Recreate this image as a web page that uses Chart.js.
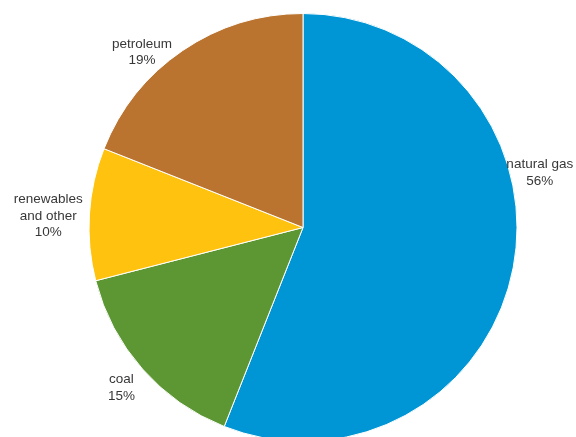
<!DOCTYPE html>
<html>
<head>
<meta charset="utf-8">
<script src="https://cdn.jsdelivr.net/npm/chart.js@4"></script>
<style>
  html, body { margin: 0; padding: 0; background: #fff; overflow: hidden; }
  #wrap { position: relative; width: 576px; height: 442px; }
</style>
</head>
<body>
<div id="wrap"><canvas id="energyChart"></canvas></div>
<script>
const categories = ['natural gas', 'coal', 'renewables\nand other', 'petroleum'];
const shares = [56, 15, 10, 19];
const sliceColors = ['#0096d6', '#5c9733', '#ffc20e', '#ba742f'];

// small adjustments so labels sit where the original placed them
const labelNudge = [
  { angle: -23.8, gap: 29 },
  { angle: 0, gap: 28 },
  { angle: -1, gap: 41 },
  { angle: -8.4, gap: 24 }
];

const outsideLabels = {
  id: 'outsideLabels',
  afterDatasetsDraw(chart) {
    const ctx = chart.ctx;
    const meta = chart.getDatasetMeta(0);
    ctx.save();
    ctx.font = '13.5px "Liberation Sans", Arial, sans-serif';
    ctx.fillStyle = '#383838';
    ctx.textAlign = 'center';
    ctx.textBaseline = 'middle';
    meta.data.forEach((arc, i) => {
      const p = arc.getProps(['x', 'y', 'startAngle', 'endAngle', 'outerRadius'], true);
      const a = (p.startAngle + p.endAngle) / 2 + labelNudge[i].angle * Math.PI / 180;
      const r = p.outerRadius + labelNudge[i].gap;
      const cx = p.x + Math.cos(a) * r;
      const cy = p.y + Math.sin(a) * r;
      const lines = categories[i].split('\n').concat([shares[i] + '%']);
      const lh = 16.5;
      lines.forEach((t, k) => {
        ctx.fillText(t, cx, cy + (k - (lines.length - 1) / 2) * lh);
      });
    });
    ctx.restore();
  }
};

const ctx = document.getElementById('energyChart').getContext('2d');
new Chart(ctx, {
  type: 'pie',
  data: {
    labels: categories,
    datasets: [
      {
        data: shares,
        backgroundColor: sliceColors,
        borderColor: '#ffffff',
        borderWidth: 1,
        hoverOffset: 0
      }
    ]
  },
  options: {
    responsive: true,
    maintainAspectRatio: false,
    animation: false,
    layout: {
      padding: { top: 13, left: 30, right: 0, bottom: 0 }
    },
    plugins: {
      legend: { display: false },
      tooltip: { enabled: false }
    }
  },
  plugins: [outsideLabels]
});
</script>
</body>
</html>
